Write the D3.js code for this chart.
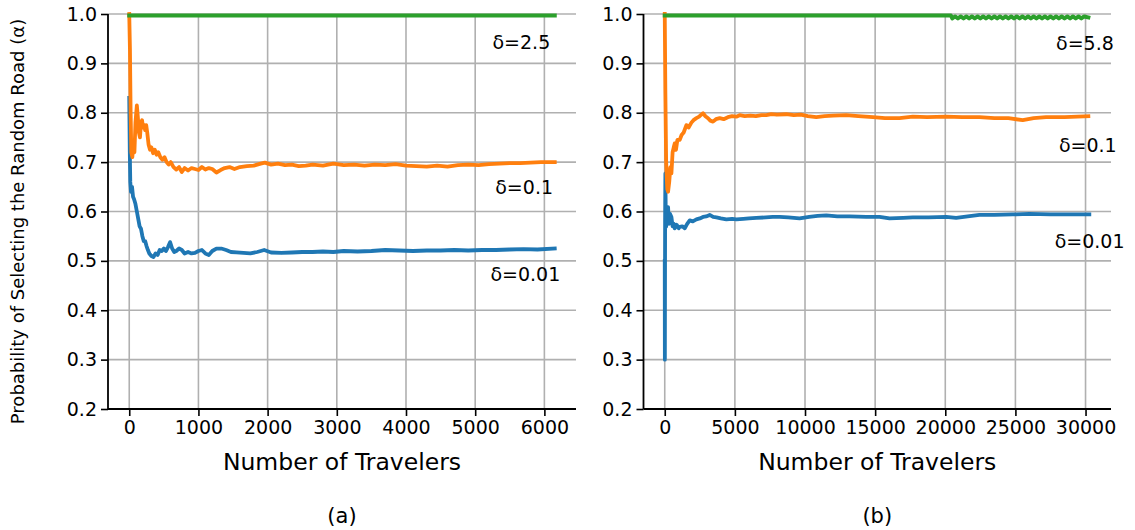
<!DOCTYPE html>
<html>
<head>
<meta charset="utf-8">
<script src="https://cdn.jsdelivr.net/npm/d3@7"></script>
<style>
  body { margin: 0; background: #fff; }
  svg { display: block; font-family: "DejaVu Sans", sans-serif; }
</style>
</head>
<body>
<svg id="chart" width="1135" height="530"></svg>
<script>
// ---- Panel (a): 6150 travelers ----
const aBlueX = [0,8,15,25,40,55,70,90,110,130,150,170,190,210,230,250,270,290,320,350,380,410,440,470,500,530,560,590,620,650,680,720,760,800,850,900,950,1000,1050,1100,1150,1200,1260,1330,1400,1470,1550,1650,1750,1850,1950,2050,2200,2350,2500,2650,2800,2950,3100,3300,3500,3700,3900,4100,4300,4500,4700,4900,5100,5300,5500,5700,5900,6150];
const aBlueY = [0.83,0.72,0.66,0.64,0.65,0.63,0.625,0.615,0.60,0.585,0.57,0.565,0.55,0.54,0.54,0.53,0.522,0.515,0.51,0.508,0.515,0.512,0.522,0.52,0.525,0.52,0.528,0.538,0.525,0.518,0.52,0.525,0.522,0.515,0.518,0.515,0.516,0.52,0.522,0.515,0.512,0.52,0.525,0.525,0.522,0.518,0.517,0.516,0.515,0.518,0.522,0.517,0.516,0.517,0.518,0.518,0.519,0.518,0.52,0.519,0.52,0.522,0.521,0.52,0.521,0.521,0.522,0.521,0.522,0.522,0.523,0.524,0.523,0.525];

const aOrangeX = [0,10,20,30,45,60,75,90,110,125,140,155,170,185,200,215,230,245,260,280,300,320,345,370,395,420,450,480,510,540,570,600,640,680,720,760,800,850,900,950,1000,1050,1100,1150,1200,1260,1320,1380,1450,1520,1600,1700,1800,1900,1960,2050,2150,2250,2350,2450,2550,2650,2800,2950,3100,3250,3400,3550,3700,3850,4000,4150,4300,4450,4600,4750,4900,5050,5200,5350,5500,5650,5800,5950,6150];
const aOrangeY = [1.0,0.93,0.80,0.72,0.71,0.74,0.72,0.78,0.815,0.79,0.76,0.75,0.78,0.785,0.77,0.775,0.765,0.775,0.76,0.735,0.725,0.73,0.718,0.725,0.715,0.72,0.71,0.705,0.71,0.70,0.695,0.70,0.69,0.685,0.69,0.68,0.688,0.683,0.688,0.686,0.684,0.69,0.685,0.688,0.686,0.679,0.684,0.688,0.69,0.686,0.69,0.692,0.693,0.697,0.699,0.695,0.697,0.694,0.695,0.692,0.693,0.695,0.693,0.697,0.694,0.695,0.693,0.695,0.694,0.696,0.693,0.692,0.691,0.693,0.691,0.694,0.695,0.694,0.696,0.697,0.698,0.698,0.699,0.70,0.70];

const aGreenX = [0,1000,2000,3000,4000,5000,6150];
const aGreenY = [0.997,0.997,0.997,0.997,0.997,0.997,0.997];

// ---- Panel (b): 30200 travelers ----
const bBlueX = [0,8,25,45,70,100,140,180,237,300,380,475,560,640,712,850,1000,1068,1250,1424,1600,1781,2000,2255,2500,2728,2950,3205,3450,3682,4000,4394,4800,5107,5600,6000,6531,7200,7700,8191,8800,9615,10300,10900,11516,12300,13200,14365,15313,16026,17000,17688,18800,20063,20775,21600,22436,23500,24800,26000,27500,28800,30270];
const bBlueY = [0.50,0.30,0.58,0.677,0.60,0.569,0.61,0.58,0.609,0.575,0.595,0.589,0.57,0.575,0.566,0.573,0.566,0.569,0.57,0.566,0.575,0.582,0.58,0.584,0.586,0.589,0.59,0.593,0.589,0.588,0.586,0.584,0.585,0.584,0.585,0.586,0.587,0.588,0.589,0.589,0.588,0.586,0.589,0.591,0.592,0.59,0.59,0.589,0.589,0.586,0.587,0.588,0.588,0.589,0.587,0.59,0.593,0.593,0.594,0.595,0.594,0.594,0.594];

const bOrangeX = [0,40,100,180,237,320,400,475,560,640,712,800,900,1068,1200,1350,1543,1700,1900,2050,2255,2450,2600,2728,2900,3086,3250,3440,3650,3917,4200,4500,4800,5100,5342,5700,6100,6500,6900,7241,7600,8000,8666,9200,9700,10200,10802,11400,12000,12939,13800,14840,15700,16738,17688,18700,20063,21200,22436,23500,24500,25523,26300,27186,28500,30200];
const bOrangeY = [1.0,0.85,0.70,0.645,0.64,0.66,0.69,0.677,0.72,0.73,0.738,0.725,0.745,0.745,0.755,0.76,0.775,0.77,0.78,0.785,0.789,0.792,0.796,0.799,0.793,0.789,0.784,0.782,0.787,0.789,0.787,0.791,0.793,0.792,0.795,0.793,0.794,0.793,0.795,0.795,0.797,0.796,0.797,0.795,0.796,0.793,0.791,0.793,0.794,0.795,0.793,0.791,0.789,0.789,0.792,0.791,0.792,0.791,0.791,0.789,0.789,0.785,0.789,0.791,0.791,0.793];

// green (δ=5.8): flat near 1, then flickers between two levels after ~20500 travelers
const bGreenX = [0,5000,10000,15000,20400,
  20500,20700,20900,21100,21300,21500,21700,21900,22100,22300,22500,22700,22900,23100,23300,23500,23700,23900,24100,24300,
  24500,24700,24900,25100,25300,25500,25700,25900,26100,26300,26500,26700,26900,27100,27300,27500,27700,27900,28100,28300,
  28500,28700,28900,29100,29300,29500,29700,29900,30200];
const bGreenY = [0.997,0.997,0.997,0.997,0.997,
  0.991,0.995,0.991,0.995,0.991,0.995,0.991,0.995,0.991,0.995,0.991,0.995,0.991,0.995,0.991,0.995,0.991,0.995,0.991,0.995,
  0.991,0.995,0.991,0.995,0.991,0.995,0.991,0.995,0.991,0.995,0.991,0.995,0.991,0.995,0.991,0.995,0.991,0.995,0.991,0.995,
  0.991,0.995,0.991,0.995,0.991,0.995,0.991,0.995,0.993];

const yTicks = [0.2,0.3,0.4,0.5,0.6,0.7,0.8,0.9,1.0];
const aXTicks = [0,1000,2000,3000,4000,5000,6000];
const bXTicks = [0,5000,10000,15000,20000,25000,30000];

const panels = [
  { left: 108, right: 576, xDomain: [-307, 6457], xTicks: aXTicks, tag: "(a)",
    series: [
      { x: aBlueX, y: aBlueY, color: "#1f77b4", label: "δ=0.01", lx: 5220, ly: 0.460 },
      { x: aOrangeX, y: aOrangeY, color: "#ff7f0e", label: "δ=0.1", lx: 5290, ly: 0.635 },
      { x: aGreenX, y: aGreenY, color: "#2ca02c", label: "δ=2.5", lx: 5250, ly: 0.930 }
    ], yLabel: true },
  { left: 643.5, right: 1111, xDomain: [-1515, 31815], xTicks: bXTicks, tag: "(b)",
    series: [
      { x: bBlueX, y: bBlueY, color: "#1f77b4", label: "δ=0.01", lx: 27800, ly: 0.526 },
      { x: bOrangeX, y: bOrangeY, color: "#ff7f0e", label: "δ=0.1", lx: 28100, ly: 0.720 },
      { x: bGreenX, y: bGreenY, color: "#2ca02c", label: "δ=5.8", lx: 27900, ly: 0.927 }
    ], yLabel: false }
];

const svg = d3.select("#chart");
const plotTop = 14, plotBottom = 409;
const y = d3.scaleLinear().domain([0.2, 1.0]).range([plotBottom, plotTop]);

panels.forEach(p => {
  const x = d3.scaleLinear().domain(p.xDomain).range([p.left, p.right]);
  const g = svg.append("g");

  // grid
  g.append("g").selectAll("line").data(p.xTicks).join("line")
    .attr("x1", d => x(d)).attr("x2", d => x(d))
    .attr("y1", plotTop).attr("y2", plotBottom)
    .attr("stroke", "#b0b0b0").attr("stroke-width", 1.6);
  g.append("g").selectAll("line").data(yTicks).join("line")
    .attr("x1", p.left).attr("x2", p.right)
    .attr("y1", d => y(d)).attr("y2", d => y(d))
    .attr("stroke", "#b0b0b0").attr("stroke-width", 1.6);

  // lines
  const line = d3.line().x(d => x(d[0])).y(d => y(d[1]));
  p.series.forEach(s => {
    const pts = s.x.map((v, i) => [v, s.y[i]]);
    g.append("path").datum(pts)
      .attr("d", line)
      .attr("fill", "none")
      .attr("stroke", s.color)
      .attr("stroke-width", s.color === "#2ca02c" ? 4 : 3.8)
      .attr("stroke-linejoin", "round")
      .attr("stroke-linecap", "square");
  });

  // labels
  p.series.forEach(s => {
    g.append("text")
      .attr("x", x(s.lx)).attr("y", y(s.ly))
      .attr("font-size", 19).attr("fill", "#000")
      .text(s.label);
  });

  // axes
  const xAxis = d3.axisBottom(x).tickValues(p.xTicks).tickFormat(d3.format("d"))
    .tickSize(7).tickPadding(5);
  const yAxis = d3.axisLeft(y).tickValues(yTicks).tickFormat(d3.format(".1f"))
    .tickSize(7).tickPadding(4);

  const gx = g.append("g").attr("transform", `translate(0,${plotBottom})`).call(xAxis);
  const gy = g.append("g").attr("transform", `translate(${p.left},0)`).call(yAxis);
  [gx, gy].forEach(ax => {
    ax.select(".domain").remove();
    ax.selectAll(".tick line").attr("stroke", "#000").attr("stroke-width", 1.6);
    ax.selectAll(".tick text").attr("font-size", 19).attr("fill", "#000")
      .attr("font-family", "DejaVu Sans, sans-serif");
  });
  // spines
  g.append("line").attr("x1", p.left).attr("x2", p.left).attr("y1", plotTop).attr("y2", plotBottom)
    .attr("stroke", "#000").attr("stroke-width", 1.8);
  g.append("line").attr("x1", p.left).attr("x2", p.right).attr("y1", plotBottom).attr("y2", plotBottom)
    .attr("stroke", "#000").attr("stroke-width", 1.8);

  const cx = (p.left + p.right) / 2;
  g.append("text").attr("x", cx).attr("y", 470).attr("text-anchor", "middle")
    .attr("font-size", 23.5).attr("fill", "#000").text("Number of Travelers");
  g.append("text").attr("x", cx).attr("y", 523).attr("text-anchor", "middle")
    .attr("font-size", 21).attr("fill", "#000").text(p.tag);

  if (p.yLabel) {
    g.append("text")
      .attr("transform", `translate(24,${(plotTop + plotBottom) / 2 + 10}) rotate(-90)`)
      .attr("text-anchor", "middle").attr("font-size", 18).attr("fill", "#000")
      .text("Probability of Selecting the Random Road (α)");
  }
});
</script>
</body>
</html>
